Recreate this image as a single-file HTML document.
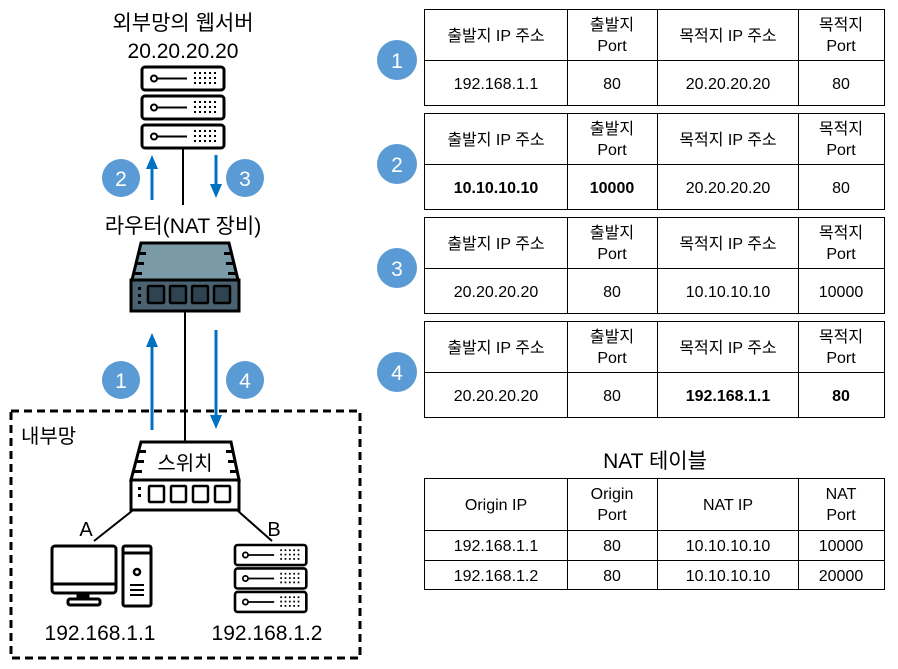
<!DOCTYPE html>
<html><head><meta charset="utf-8"><style>
body{margin:0;width:898px;height:664px;background:#fff;overflow:hidden;font-family:"Liberation Sans","Noto Sans CJK KR",sans-serif;}
svg text{font-family:"Liberation Sans","Noto Sans CJK KR",sans-serif;}
</style></head><body>
<svg width="898" height="664" viewBox="0 0 898 664" xmlns="http://www.w3.org/2000/svg">
<defs>
<marker id="ah" markerWidth="14" markerHeight="12" refX="2" refY="6" orient="auto" markerUnits="userSpaceOnUse"><path d="M0,0 L14,6 L0,12 z" fill="#0070c0"/></marker>
<g id="srv">
 <rect x="0" y="0" width="82" height="23" rx="3" fill="#fff" stroke="#000" stroke-width="3"/>
 <circle cx="12" cy="11.5" r="3" fill="none" stroke="#000" stroke-width="2"/>
 <line x1="15" y1="11.5" x2="45" y2="11.5" stroke="#000" stroke-width="2"/>
 <g fill="#000"><rect x="52" y="5" width="2" height="2"/><rect x="57" y="5" width="2" height="2"/><rect x="62" y="5" width="2" height="2"/><rect x="67" y="5" width="2" height="2"/><rect x="72" y="5" width="2" height="2"/>
 <rect x="52" y="10" width="2" height="2"/><rect x="57" y="10" width="2" height="2"/><rect x="62" y="10" width="2" height="2"/><rect x="67" y="10" width="2" height="2"/><rect x="72" y="10" width="2" height="2"/>
 <rect x="52" y="15" width="2" height="2"/><rect x="57" y="15" width="2" height="2"/><rect x="62" y="15" width="2" height="2"/><rect x="67" y="15" width="2" height="2"/><rect x="72" y="15" width="2" height="2"/></g>
</g>
</defs>
<text x="183" y="30" font-size="21" text-anchor="middle">외부망의 웹서버</text>
<text x="183" y="58" font-size="21" text-anchor="middle">20.20.20.20</text>
<g transform="translate(142,67)"><use href="#srv"/><use href="#srv" y="29"/><use href="#srv" y="58"/></g>
<line x1="183" y1="148" x2="183" y2="205" stroke="#000" stroke-width="2"/>
<line x1="152" y1="200" x2="152" y2="167" stroke="#0070c0" stroke-width="3" marker-end="url(#ah)"/>
<line x1="216" y1="155" x2="216" y2="186" stroke="#0070c0" stroke-width="3" marker-end="url(#ah)"/>
<circle cx="121" cy="178" r="19" fill="#5b9bd5"/><text x="121" y="186" font-size="21" fill="#fff" text-anchor="middle">2</text>
<circle cx="245" cy="178" r="19" fill="#5b9bd5"/><text x="245" y="186" font-size="21" fill="#fff" text-anchor="middle">3</text>
<text x="183" y="233" font-size="21" text-anchor="middle">라우터(NAT 장비)</text>
<g stroke="#000" stroke-width="3">
<path d="M141,243 L229,243 L238,280 L132,280 Z" fill="#7a9aa8"/>
<rect x="131" y="280" width="108" height="31" fill="#4a6270"/>
</g>
<g fill="#000"><rect x="138" y="252" width="8" height="3"/><rect x="136" y="262" width="8" height="3"/><rect x="134" y="272" width="8" height="3"/><rect x="224" y="252" width="8" height="3"/><rect x="226" y="262" width="8" height="3"/><rect x="228" y="272" width="8" height="3"/>
<rect x="138" y="287" width="3" height="3"/><rect x="138" y="294" width="3" height="3"/><rect x="138" y="301" width="3" height="3"/></g>
<g fill="#2f4450" stroke="#000" stroke-width="2.5"><rect x="148" y="286" width="16" height="17" rx="1"/><rect x="170" y="286" width="16" height="17" rx="1"/><rect x="192" y="286" width="16" height="17" rx="1"/><rect x="214" y="286" width="16" height="17" rx="1"/></g>
<line x1="185" y1="312" x2="185" y2="442" stroke="#000" stroke-width="2"/>
<line x1="152" y1="430" x2="152" y2="345" stroke="#0070c0" stroke-width="3" marker-end="url(#ah)"/>
<line x1="216" y1="330" x2="216" y2="417" stroke="#0070c0" stroke-width="3" marker-end="url(#ah)"/>
<circle cx="121" cy="380" r="19" fill="#5b9bd5"/><text x="121" y="388" font-size="21" fill="#fff" text-anchor="middle">1</text>
<circle cx="245" cy="380" r="19" fill="#5b9bd5"/><text x="245" y="388" font-size="21" fill="#fff" text-anchor="middle">4</text>
<rect x="11" y="411" width="349" height="247" fill="none" stroke="#000" stroke-width="3" stroke-dasharray="8,5"/>
<text x="21" y="443" font-size="20">내부망</text>
<g stroke="#000" stroke-width="3" fill="#fff">
<path d="M141,442 L231,442 L239,480 L131,480 Z"/>
<rect x="131" y="480" width="108" height="30"/>
</g>
<g fill="#000"><rect x="138" y="450" width="8" height="3"/><rect x="136" y="460" width="8" height="3"/><rect x="134" y="470" width="8" height="3"/><rect x="226" y="450" width="8" height="3"/><rect x="228" y="460" width="8" height="3"/><rect x="230" y="470" width="8" height="3"/>
<rect x="138" y="487" width="3" height="3"/><rect x="138" y="494" width="3" height="3"/></g>
<g fill="#fff" stroke="#000" stroke-width="2.5"><rect x="149" y="486" width="15" height="16" rx="1"/><rect x="171" y="486" width="15" height="16" rx="1"/><rect x="193" y="486" width="15" height="16" rx="1"/><rect x="215" y="486" width="15" height="16" rx="1"/></g>
<text x="185" y="470" font-size="20" text-anchor="middle">스위치</text>
<line x1="132" y1="511" x2="94" y2="541" stroke="#000" stroke-width="2"/>
<line x1="238" y1="511" x2="272" y2="541" stroke="#000" stroke-width="2"/>
<text x="86" y="536" font-size="20" text-anchor="middle">A</text>
<text x="274" y="536" font-size="20" text-anchor="middle">B</text>
<g stroke="#000" stroke-width="3" fill="#fff">
<rect x="52" y="546" width="64" height="47" rx="3"/>
<line x1="52" y1="584" x2="116" y2="584"/>
<rect x="78" y="593" width="10" height="6" fill="#000"/>
<rect x="68" y="599" width="32" height="6" rx="2"/>
<rect x="123" y="546" width="28" height="60" rx="2"/>
<line x1="123" y1="553" x2="151" y2="553"/>
</g>
<circle cx="137" cy="572" r="3" fill="none" stroke="#000" stroke-width="2.5"/>
<g fill="#000"><rect x="130" y="584" width="14" height="2"/><rect x="130" y="589" width="14" height="2"/><rect x="130" y="594" width="14" height="2"/></g>
<g transform="translate(235,545) scale(0.87,0.87)"><use href="#srv"/><use href="#srv" y="27"/><use href="#srv" y="54"/></g>
<text x="100" y="640" font-size="21" text-anchor="middle">192.168.1.1</text>
<text x="267" y="640" font-size="21" text-anchor="middle">192.168.1.2</text>
<g fill="#5b9bd5"><circle cx="397" cy="60" r="20"/><circle cx="397" cy="164" r="20"/><circle cx="397" cy="268" r="20"/><circle cx="397" cy="372" r="20"/></g>
<g fill="#fff" font-size="21" text-anchor="middle"><text x="397" y="68">1</text><text x="397" y="172">2</text><text x="397" y="276">3</text><text x="397" y="380">4</text></g>
<g font-size="16" text-anchor="middle" fill="#000">
<g id="t1">
<rect x="424.5" y="9.5" width="460" height="96" fill="none" stroke="#000"/>
<line x1="424" y1="60.5" x2="884" y2="60.5" stroke="#000"/>
<line x1="567.5" y1="9" x2="567.5" y2="105" stroke="#000"/><line x1="657.5" y1="9" x2="657.5" y2="105" stroke="#000"/><line x1="798.5" y1="9" x2="798.5" y2="105" stroke="#000"/>
<text x="496" y="41">출발지 IP 주소</text><text x="612" y="30">출발지</text><text x="612" y="51">Port</text><text x="728" y="41">목적지 IP 주소</text><text x="841" y="30">목적지</text><text x="841" y="51">Port</text>
</g>
<text x="496" y="89">192.168.1.1</text><text x="612" y="89">80</text><text x="728" y="89">20.20.20.20</text><text x="841" y="89">80</text>
<use href="#t1" y="104"/>
<g font-weight="bold"><text x="496" y="193">10.10.10.10</text><text x="612" y="193">10000</text></g><text x="728" y="193">20.20.20.20</text><text x="841" y="193">80</text>
<use href="#t1" y="208"/>
<text x="496" y="297">20.20.20.20</text><text x="612" y="297">80</text><text x="728" y="297">10.10.10.10</text><text x="841" y="297">10000</text>
<use href="#t1" y="312"/>
<text x="496" y="401">20.20.20.20</text><text x="612" y="401">80</text><g font-weight="bold"><text x="728" y="401">192.168.1.1</text><text x="841" y="401">80</text></g>
<text x="655" y="468" font-size="21">NAT 테이블</text>
<rect x="424.5" y="478.5" width="460" height="111" fill="none" stroke="#000"/>
<line x1="424" y1="530.5" x2="884" y2="530.5" stroke="#000"/><line x1="424" y1="560.5" x2="884" y2="560.5" stroke="#000"/>
<line x1="567.5" y1="478" x2="567.5" y2="590" stroke="#000"/><line x1="657.5" y1="478" x2="657.5" y2="590" stroke="#000"/><line x1="798.5" y1="478" x2="798.5" y2="590" stroke="#000"/>
<text x="496" y="510">Origin IP</text><text x="612" y="499">Origin</text><text x="612" y="520">Port</text><text x="728" y="510">NAT IP</text><text x="841" y="499">NAT</text><text x="841" y="520">Port</text>
<text x="496" y="551">192.168.1.1</text><text x="612" y="551">80</text><text x="728" y="551">10.10.10.10</text><text x="841" y="551">10000</text>
<text x="496" y="581">192.168.1.2</text><text x="612" y="581">80</text><text x="728" y="581">10.10.10.10</text><text x="841" y="581">20000</text>
</g>
</svg>
</body></html>
